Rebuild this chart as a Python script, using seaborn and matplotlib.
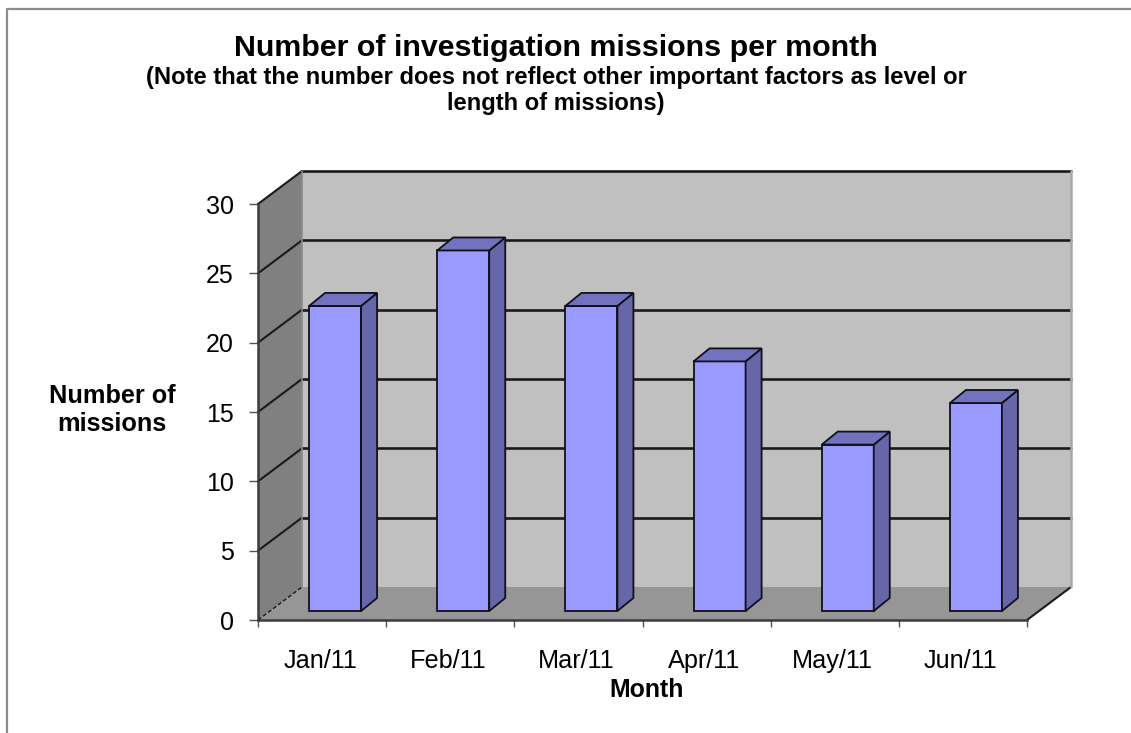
import matplotlib
matplotlib.use("Agg")
import matplotlib.pyplot as plt
import seaborn as sns
import pandas as pd
from matplotlib.patches import Polygon
from matplotlib.lines import Line2D

months = ["Jan/11", "Feb/11", "Mar/11", "Apr/11", "May/11", "Jun/11"]
missions = [22, 26, 22, 18, 12, 15]
y_ticks = [0, 5, 10, 15, 20, 25, 30]
title = "Number of investigation missions per month"
note = "(Note that the number does not reflect other important factors as level or\nlength of missions)"

W, H = 1131, 733
sns.set_theme(style="white", rc={"font.family": ["Liberation Sans", "DejaVu Sans"]})
fig = plt.figure(figsize=(W / 100, H / 100), dpi=100, facecolor="white")
L, R, T, B = 258, 1027, 204, 620
ax = fig.add_axes([L / W, 1 - B / H, (R - L) / W, (B - T) / H])
ax.patch.set_alpha(0)
cat_px = (R - L) / len(months)

df = pd.DataFrame({"month": months, "missions": missions})
sns.barplot(data=df, x="month", y="missions", color="#9999FF", saturation=1,
            width=52 / cat_px, edgecolor="#101018", linewidth=1.3, ax=ax, zorder=5)
ax.set_xlim(-0.5, 5.5)
ax.set_ylim(0, 30)

# pixel -> data scales for the pseudo 3-D depth
ux, uy = 1 / cat_px, 30 / (B - T)
DX, DY = 44 * ux, 33 * uy           # full depth of the box
OX, OY = 13 * ux, 9 * uy            # bar front plane offset
BX, BY = 16 * ux, 13 * uy           # bar depth
x0, x1 = -0.5, 5.5
GRID = "#1A1A1A"


def poly(pts, fc, ec="none", lw=0, z=1):
    ax.add_patch(Polygon(pts, closed=True, facecolor=fc, edgecolor=ec, linewidth=lw,
                         clip_on=False, zorder=z))


# back wall, side wall, floor
poly([(x0 + DX, DY), (x1 + DX, DY), (x1 + DX, 30 + DY), (x0 + DX, 30 + DY)], "#C0C0C0", z=1)
poly([(x0, 0), (x0 + DX, DY), (x0 + DX, 30 + DY), (x0, 30)], "#808080", z=1)
poly([(x0, 0), (x1, 0), (x1 + DX, DY), (x0 + DX, DY)], "#969696", z=1)

# wall gridlines
for v in y_ticks:
    if v > 0:
        ax.add_line(Line2D([x0 + DX, x1 + DX], [v + DY, v + DY], color=GRID, lw=1.9,
                           clip_on=False, zorder=2))
        ax.add_line(Line2D([x0, x0 + DX], [v, v + DY], color=GRID, lw=1.5,
                           clip_on=False, zorder=2))
ax.add_line(Line2D([x0, x0 + DX], [0, DY], color=GRID, lw=1.0, ls=(0, (3, 1.5)),
                   clip_on=False, zorder=2))
ax.add_line(Line2D([x1, x1 + DX], [0, DY], color=GRID, lw=1.5, clip_on=False, zorder=2))
ax.add_line(Line2D([x1 + DX, x1 + DX], [DY, 30 + DY], color="#A8A8A8", lw=1.8, clip_on=False, zorder=2))
ax.add_line(Line2D([x0 + DX, x0 + DX], [DY, 30 + DY], color="#8C8C8C", lw=1.2, clip_on=False, zorder=2))

# bars: move to their depth plane and add side/top faces
for p, v in zip(ax.patches[:len(missions)], missions):
    xl, w = p.get_x(), p.get_width()
    p.set_x(xl + OX)
    p.set_y(OY)
    xr = xl + w + OX
    poly([(xr, OY), (xr + BX, OY + BY), (xr + BX, OY + BY + v), (xr, OY + v)],
         "#6666AA", "#101018", 1.3, z=6)
    poly([(xl + OX, OY + v), (xr, OY + v), (xr + BX, OY + BY + v), (xl + OX + BX, OY + BY + v)],
         "#7272BE", "#101018", 1.3, z=6)

for s in ["top", "right"]:
    ax.spines[s].set_visible(False)
for s in ["left", "bottom"]:
    ax.spines[s].set_color("#3C3C3C")
    ax.spines[s].set_linewidth(1.8)
    ax.spines[s].set_zorder(4)

ax.set_yticks(y_ticks)
ax.set_xticks([i - 0.5 for i in range(len(months) + 1)])
ax.set_xticklabels([""] * (len(months) + 1))
ax.tick_params(axis="x", bottom=True, direction="out", length=5, width=1, color="#555555")
ax.tick_params(axis="y", left=True, direction="out", length=6.5, width=1, color="#555555",
               labelsize=18, pad=11, labelcolor="black")
ax.set_xlabel("")
ax.set_ylabel("")

for i, m in enumerate(months):
    fig.text((L + cat_px / 2 - 2 + i * cat_px) / W, 1 - 668 / H, m, ha="center", va="baseline",
             fontsize=18.2, color="black")

fig.text(647 / W, 1 - 697 / H, "Month", ha="center", va="baseline", fontsize=17.9,
         fontweight="bold", color="black")
fig.text(112 / W, 1 - 403 / H, "Number of", ha="center", va="baseline", fontsize=18.2,
         fontweight="bold", color="black")
fig.text(112 / W, 1 - 431 / H, "missions", ha="center", va="baseline", fontsize=18.2,
         fontweight="bold", color="black")
fig.text(556 / W, 1 - 56 / H, title, ha="center", va="baseline", fontsize=21.9, fontweight="bold",
         color="black")
for line, base in zip(note.split("\n"), [84, 110]):
    fig.text(556 / W, 1 - base / H, line, ha="center", va="baseline", fontsize=17.1,
             fontweight="bold", color="black")

# outer chart frame
fig.add_artist(Line2D([7 / W, 7 / W, 1], [0, 1 - 9 / H, 1 - 9 / H], color="#8C8C8C", lw=1.6,
                      transform=fig.transFigure))

fig.savefig("out.png", dpi=100)
